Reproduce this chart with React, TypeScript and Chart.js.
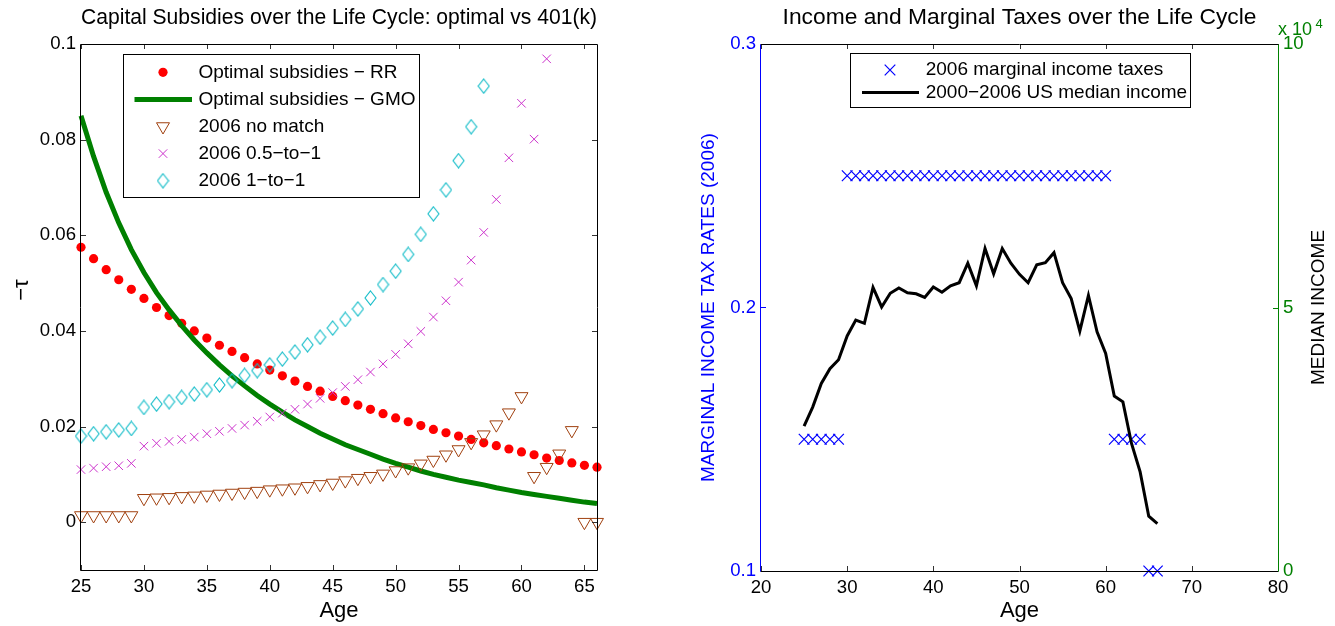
import React, { useEffect, useRef } from 'react';
import { Chart, registerables } from 'chart.js';
import { drawPoint } from 'chart.js/helpers';

Chart.register(...registerables);

const FONT = "'Liberation Sans', Arial, Helvetica, sans-serif";

// ---------- Left chart data ----------
const AGES = [25, 26, 27, 28, 29, 30, 31, 32, 33, 34, 35, 36, 37, 38, 39, 40, 41, 42, 43, 44, 45,
  46, 47, 48, 49, 50, 51, 52, 53, 54, 55, 56, 57, 58, 59, 60, 61, 62, 63, 64, 65, 66];

const RR = [0.0575, 0.0551, 0.0528, 0.0507, 0.0487, 0.0468, 0.0449, 0.0432, 0.0416, 0.0400, 0.0385,
  0.0370, 0.0357, 0.0344, 0.0331, 0.0318, 0.0306, 0.0295, 0.0284, 0.0274, 0.0263, 0.0254, 0.0245,
  0.0236, 0.0227, 0.0218, 0.0210, 0.0202, 0.0194, 0.0187, 0.0180, 0.0173, 0.0166, 0.0160, 0.0153,
  0.0147, 0.0141, 0.0134, 0.0129, 0.0124, 0.0119, 0.0115];

const GMO = [0.0850, 0.0765, 0.0690, 0.0626, 0.0570, 0.0522, 0.0480, 0.0444, 0.0411, 0.0381, 0.0354,
  0.0329, 0.0306, 0.0285, 0.0265, 0.0247, 0.0230, 0.0214, 0.0200, 0.0186, 0.0174, 0.0162, 0.0152,
  0.0142, 0.0132, 0.0123, 0.0115, 0.0107, 0.0100, 0.0094, 0.0088, 0.0083, 0.0078, 0.0072, 0.0067,
  0.0062, 0.0058, 0.0054, 0.0050, 0.0046, 0.0042, 0.0039];

const NO_MATCH = [0.0014, 0.0014, 0.0014, 0.0014, 0.0014, 0.0050, 0.0051, 0.0052, 0.0054, 0.0055,
  0.0057, 0.0059, 0.0061, 0.0063, 0.0065, 0.0068, 0.0070, 0.0072, 0.0075, 0.0079, 0.0082, 0.0087,
  0.0092, 0.0096, 0.0101, 0.0108, 0.0114, 0.0122, 0.0130, 0.0141, 0.0152, 0.0167, 0.0183, 0.0204,
  0.0229, 0.0263, 0.0096, 0.0115, 0.0143, 0.0192, 0.0000, 0.0000];

const HALF_MATCH = [0.0110, 0.0113, 0.0116, 0.0118, 0.0123, 0.0159, 0.0165, 0.0169, 0.0173, 0.0178,
  0.0185, 0.0190, 0.0196, 0.0203, 0.0211, 0.0220, 0.0228, 0.0236, 0.0247, 0.0259, 0.0271, 0.0284,
  0.0298, 0.0314, 0.0331, 0.0351, 0.0373, 0.0399, 0.0429, 0.0463, 0.0502, 0.0548, 0.0606, 0.0675,
  0.0762, 0.0876, 0.0801, 0.0969];

const FULL_MATCH = [0.0180, 0.0185, 0.0189, 0.0193, 0.0196, 0.0240, 0.0247, 0.0252, 0.0261, 0.0268,
  0.0277, 0.0287, 0.0296, 0.0307, 0.0317, 0.0329, 0.0341, 0.0356, 0.0371, 0.0387, 0.0406, 0.0424,
  0.0446, 0.0469, 0.0497, 0.0525, 0.0560, 0.0602, 0.0645, 0.0695, 0.0756, 0.0827, 0.0912];

const LEFT_X_TICKS = [25, 30, 35, 40, 45, 50, 55, 60, 65];
const LEFT_Y_TICKS = [0, 0.02, 0.04, 0.06, 0.08, 0.1];

const LEFT_TITLE = 'Capital Subsidies over the Life Cycle: optimal vs 401(k)';
const LEFT_YLABEL = '\u2212\u03C4';
const X_LABEL = 'Age';
const LEFT_LABELS = [
  'Optimal subsidies \u2212 RR',
  'Optimal subsidies \u2212 GMO',
  '2006 no match',
  '2006 0.5\u2212to\u22121',
  '2006 1\u2212to\u22121',
];

// ---------- Right chart data ----------
const TAX = [0.15, 0.15, 0.15, 0.15, 0.15, 0.25, 0.25, 0.25, 0.25, 0.25, 0.25, 0.25, 0.25, 0.25,
  0.25, 0.25, 0.25, 0.25, 0.25, 0.25, 0.25, 0.25, 0.25, 0.25, 0.25, 0.25, 0.25, 0.25, 0.25, 0.25,
  0.25, 0.25, 0.25, 0.25, 0.25, 0.25, 0.15, 0.15, 0.15, 0.15, 0.10, 0.10];

const INCOME = [27500, 31100, 35600, 38400, 40100, 44600, 47600, 47000, 53800, 50100, 52700, 53700,
  52800, 52600, 51900, 53900, 52900, 54100, 54700, 58400, 54100, 61200, 56400, 61200, 58400, 56300,
  54700, 58100, 58500, 60400, 54700, 51700, 45500, 52300, 45400, 41300, 33200, 32100, 24200, 18800,
  10400, 9000];

const RIGHT_X_TICKS = [20, 30, 40, 50, 60, 70, 80];
const TAX_TICKS = [0.1, 0.2, 0.3];
const INCOME_TICKS = [0, 50000, 100000];

const RIGHT_TITLE = 'Income and Marginal Taxes over the Life Cycle';
const RIGHT_YLABEL = 'MARGINAL INCOME TAX RATES (2006)';
const RIGHT_Y2LABEL = 'MEDIAN INCOME';
const EXP_BASE = 'x 10';
const EXP_POWER = '4';
const RIGHT_LABELS = ['2006 marginal income taxes', '2000\u22122006 US median income'];

// ---------- helpers ----------
const pts = (vals: number[]) => vals.map((y, i) => ({ x: AGES[i], y }));

function makeDiamond(color: string, w: number, h: number) {
  const c = document.createElement('canvas');
  c.width = w + 2;
  c.height = h + 2;
  const g = c.getContext('2d')!;
  g.strokeStyle = color;
  g.lineWidth = 1.1;
  const cx = c.width / 2, cy = c.height / 2;
  g.beginPath();
  g.moveTo(cx, cy - h / 2);
  g.lineTo(cx + w / 2, cy);
  g.lineTo(cx, cy + h / 2);
  g.lineTo(cx - w / 2, cy);
  g.closePath();
  g.stroke();
  return c;
}

type Side = { edge: 'bottom' | 'top' | 'left' | 'right'; scale: string; line: string; tick: string };
type LegendCfg = { box: [number, number, number, number]; rows: number[]; markerX: number; lineX: [number, number]; textX: number; size: number };
type TextCfg = { text: string; x: number; y: number; size: number; color: string; rotate?: boolean; align: CanvasTextAlign; baseline: CanvasTextBaseline };

function makeDecor(sides: Side[], legend: LegendCfg, texts: TextCfg[]) {
  return {
    id: 'decor',
    afterDraw(chart: any) {
      const { ctx, chartArea: a, scales } = chart;
      const L = 5;
      ctx.save();
      ctx.lineWidth = 1;
      for (const s of sides) {
        const sc = scales[s.scale];
        ctx.strokeStyle = s.tick;
        ctx.beginPath();
        for (const t of sc.ticks) {
          const p = Math.round(sc.getPixelForValue(t.value)) + 0.5;
          if (s.edge === 'bottom') { ctx.moveTo(p, a.bottom); ctx.lineTo(p, a.bottom - L); }
          else if (s.edge === 'top') { ctx.moveTo(p, a.top); ctx.lineTo(p, a.top + L); }
          else if (s.edge === 'left') { ctx.moveTo(a.left, p); ctx.lineTo(a.left + L, p); }
          else { ctx.moveTo(a.right, p); ctx.lineTo(a.right - L, p); }
        }
        ctx.stroke();
      }
      const l = Math.round(a.left) - 0.5, r = Math.round(a.right) + 0.5;
      const t = Math.round(a.top) + 0.5, b = Math.round(a.bottom) + 0.5;
      for (const s of sides) {
        ctx.strokeStyle = s.line;
        ctx.beginPath();
        if (s.edge === 'bottom') { ctx.moveTo(l, b); ctx.lineTo(r, b); }
        else if (s.edge === 'top') { ctx.moveTo(l, t); ctx.lineTo(r, t); }
        else if (s.edge === 'left') { ctx.moveTo(l, t); ctx.lineTo(l, b); }
        else { ctx.moveTo(r, t); ctx.lineTo(r, b); }
        ctx.stroke();
      }
      // legend box
      const [x1, y1, x2, y2] = legend.box;
      ctx.fillStyle = '#ffffff';
      ctx.fillRect(x1, y1, x2 - x1, y2 - y1);
      ctx.strokeStyle = '#000000';
      ctx.lineWidth = 1;
      ctx.strokeRect(Math.round(x1) + 0.5, Math.round(y1) + 0.5, Math.round(x2 - x1), Math.round(y2 - y1));
      // legend entries, styled from the library's resolved element options
      chart.data.datasets.forEach((ds: any, i: number) => {
        const y = legend.rows[i];
        const meta = chart.getDatasetMeta(i);
        ctx.save();
        if (ds.pointRadius === 0) {
          const lo = meta.dataset ? meta.dataset.options : ds;
          ctx.strokeStyle = lo.borderColor;
          ctx.lineWidth = lo.borderWidth;
          ctx.lineCap = 'butt';
          ctx.beginPath();
          ctx.moveTo(legend.lineX[0], y);
          ctx.lineTo(legend.lineX[1], y);
          ctx.stroke();
        } else {
          const po = meta.data[0].options;
          ctx.fillStyle = po.backgroundColor;
          ctx.strokeStyle = po.borderColor;
          ctx.lineWidth = po.borderWidth;
          drawPoint(ctx, {
            pointStyle: po.pointStyle,
            rotation: po.rotation,
            radius: po.radius,
            borderWidth: po.borderWidth,
          } as any, legend.markerX, y);
        }
        ctx.restore();
        ctx.fillStyle = '#000000';
        ctx.font = `${legend.size}px ${FONT}`;
        ctx.textAlign = 'left';
        ctx.textBaseline = 'middle';
        ctx.fillText(ds.label, legend.textX, y);
      });
      for (const tx of texts) {
        ctx.save();
        ctx.fillStyle = tx.color;
        ctx.font = `${tx.size}px ${FONT}`;
        ctx.textAlign = tx.align;
        ctx.textBaseline = tx.baseline;
        ctx.translate(tx.x, tx.y);
        if (tx.rotate) ctx.rotate(-Math.PI / 2);
        ctx.fillText(tx.text, 0, 0);
        ctx.restore();
      }
      ctx.restore();
    },
  };
}

const tickFont = { family: FONT, size: 18.6 };
const labelFont = { family: FONT, size: 19, weight: 'normal' as const };
const titleFont = { family: FONT, size: 22.8, weight: 'normal' as const };
const xLabelFont = { family: FONT, size: 22, weight: 'normal' as const };
const noGrid = { display: false, drawTicks: false };
const CYAN = '#10BCC8';
const MAGENTA = '#CC33CC';
const BROWN = '#A0400F';
const BLUE = '#0000FF';

function leftConfig(): any {
  const diamond = makeDiamond(CYAN, 11, 14);
  return {
    type: 'scatter',
    data: {
      datasets: [
        {
          label: LEFT_LABELS[0], data: pts(RR), showLine: false, clip: false, order: 5,
          pointStyle: 'circle', pointRadius: 4.6, pointBackgroundColor: '#FF0000',
          pointBorderColor: '#FF0000', borderColor: '#FF0000', backgroundColor: '#FF0000', pointBorderWidth: 0,
        },
        {
          type: 'line', label: LEFT_LABELS[1], data: pts(GMO), showLine: true, clip: false, order: 4,
          borderColor: '#008000', borderWidth: 5, pointRadius: 0, tension: 0, fill: false,
        },
        {
          label: LEFT_LABELS[2], data: pts(NO_MATCH), showLine: false, clip: false, order: 3,
          pointStyle: 'triangle', pointRotation: 180, pointRadius: 7.5,
          pointBackgroundColor: 'rgba(0,0,0,0)', backgroundColor: 'rgba(0,0,0,0)',
          pointBorderColor: BROWN, borderColor: BROWN, pointBorderWidth: 1,
        },
        {
          label: LEFT_LABELS[3], data: pts(HALF_MATCH), showLine: false, clip: false, order: 2,
          pointStyle: 'crossRot', pointRadius: 6, pointBackgroundColor: 'rgba(0,0,0,0)', backgroundColor: 'rgba(0,0,0,0)',
          pointBorderColor: MAGENTA, borderColor: MAGENTA, pointBorderWidth: 1,
        },
        {
          label: LEFT_LABELS[4], data: pts(FULL_MATCH), showLine: false, clip: false, order: 1,
          pointStyle: diamond, pointRadius: 6, pointBackgroundColor: 'rgba(0,0,0,0)', backgroundColor: 'rgba(0,0,0,0)',
          pointBorderColor: CYAN, borderColor: CYAN, pointBorderWidth: 1,
        },
      ],
    },
    options: {
      responsive: false,
      animation: false,
      events: [],
      layout: { padding: { left: 0, right: 83, top: 0, bottom: 0 } },
      plugins: {
        legend: { display: false },
        tooltip: { enabled: false },
        title: {
          display: true, text: LEFT_TITLE, fullSize: false, color: '#000',
          font: titleFont, padding: { top: 4.3, bottom: 12.34 },
        },
      },
      scales: {
        x: {
          type: 'linear', position: 'bottom', min: 25, max: 66,
          afterBuildTicks: (s: any) => { s.ticks = LEFT_X_TICKS.map((value) => ({ value })); },
          afterFit: (s: any) => { s.height = 56; },
          grid: noGrid, border: { display: false },
          ticks: { padding: 6, color: '#000', font: tickFont, maxRotation: 0, autoSkip: false, callback: (v: number) => String(v) },
          title: { display: true, text: X_LABEL, color: '#000', font: xLabelFont, padding: { top: 0, bottom: 1.8 } },
        },
        y: {
          type: 'linear', position: 'left', min: -0.01, max: 0.1,
          afterBuildTicks: (s: any) => { s.ticks = LEFT_Y_TICKS.map((value) => ({ value })); },
          afterFit: (s: any) => { s.width = 81; },
          grid: noGrid, border: { display: false },
          ticks: { padding: 5, color: '#000', font: tickFont, autoSkip: false, callback: (v: number) => String(v) },
        },
      },
    },
    plugins: [
      makeDecor(
        [
          { edge: 'bottom', scale: 'x', line: '#000', tick: '#333' },
          { edge: 'top', scale: 'x', line: '#000', tick: '#333' },
          { edge: 'left', scale: 'y', line: '#000', tick: '#333' },
          { edge: 'right', scale: 'y', line: '#000', tick: '#333' },
        ],
        { box: [123, 54, 419, 197], rows: [72.3, 99.4, 126.5, 153.6, 180.7], markerX: 163, lineX: [134.5, 192], textX: 198.5, size: 19 },
        [
          { text: LEFT_YLABEL, x: 22, y: 290, size: 22, color: '#000', rotate: true, align: 'center', baseline: 'middle' },
        ],
      ),
    ],
  };
}

function rightConfig(): any {
  return {
    type: 'scatter',
    data: {
      datasets: [
        {
          label: RIGHT_LABELS[0], data: pts(TAX), yAxisID: 'y', showLine: false, clip: false, order: 2,
          pointStyle: 'crossRot', pointRadius: 7.5, pointBackgroundColor: 'rgba(0,0,0,0)', backgroundColor: 'rgba(0,0,0,0)',
          pointBorderColor: BLUE, borderColor: BLUE, pointBorderWidth: 1.2,
        },
        {
          type: 'line', label: RIGHT_LABELS[1], data: pts(INCOME), yAxisID: 'y2', showLine: true,
          clip: false, order: 1, borderColor: '#000000', borderWidth: 3, pointRadius: 0, tension: 0, fill: false,
        },
      ],
    },
    options: {
      responsive: false,
      animation: false,
      events: [],
      layout: { padding: 0 },
      plugins: {
        legend: { display: false },
        tooltip: { enabled: false },
        title: {
          display: true, text: RIGHT_TITLE, fullSize: false, color: '#000',
          font: titleFont, padding: { top: 4.3, bottom: 12.34 },
        },
      },
      scales: {
        x: {
          type: 'linear', position: 'bottom', min: 20, max: 80,
          afterBuildTicks: (s: any) => { s.ticks = RIGHT_X_TICKS.map((value) => ({ value })); },
          afterFit: (s: any) => { s.height = 55; },
          grid: noGrid, border: { display: false },
          ticks: { padding: 6, color: '#000', font: tickFont, maxRotation: 0, autoSkip: false, callback: (v: number) => String(v) },
          title: { display: true, text: X_LABEL, color: '#000', font: xLabelFont, padding: { top: 0, bottom: 1.8 } },
        },
        y: {
          type: 'linear', position: 'left', min: 0.1, max: 0.3,
          afterBuildTicks: (s: any) => { s.ticks = TAX_TICKS.map((value) => ({ value })); },
          afterFit: (s: any) => { s.width = 81; },
          grid: noGrid, border: { display: false },
          ticks: { padding: 5, color: BLUE, font: tickFont, autoSkip: false, callback: (v: number) => String(v) },
          title: { display: true, text: RIGHT_YLABEL, color: BLUE, font: labelFont, padding: { top: 17, bottom: 0 } },
        },
        y2: {
          type: 'linear', position: 'right', min: 0, max: 100000,
          afterBuildTicks: (s: any) => { s.ticks = INCOME_TICKS.map((value) => ({ value })); },
          afterFit: (s: any) => { s.width = 57; },
          grid: noGrid, border: { display: false },
          ticks: { padding: 5, color: '#008000', font: tickFont, autoSkip: false, callback: (v: number) => String(v / 10000) },
        },
      },
    },
    plugins: [
      makeDecor(
        [
          { edge: 'bottom', scale: 'x', line: '#000', tick: '#333' },
          { edge: 'top', scale: 'x', line: '#000', tick: '#333' },
          { edge: 'left', scale: 'y', line: BLUE, tick: BLUE },
          { edge: 'right', scale: 'y2', line: '#008000', tick: '#008000' },
        ],
        { box: [170, 53, 510, 107], rows: [70, 92.5], markerX: 210, lineX: [182, 239], textX: 245.7, size: 19 },
        [
          { text: RIGHT_Y2LABEL, x: 639, y: 307.5, size: 19, color: '#000', rotate: true, align: 'center', baseline: 'middle' },
          { text: EXP_BASE, x: 598, y: 35, size: 18, color: '#008000', align: 'left', baseline: 'alphabetic' },
          { text: EXP_POWER, x: 635.5, y: 28, size: 13, color: '#008000', align: 'left', baseline: 'alphabetic' },
        ],
      ),
    ],
  };
}

function ChartCanvas({ make, left, width }: { make: () => any; left: number; width: number }) {
  const ref = useRef<HTMLCanvasElement>(null);
  useEffect(() => {
    const chart = new Chart(ref.current as HTMLCanvasElement, make());
    return () => chart.destroy();
  }, [make]);
  return (
    <canvas
      ref={ref}
      width={width}
      height={626}
      style={{ position: 'absolute', left, top: 0, width, height: 626 }}
    />
  );
}

export default function App() {
  return (
    <div style={{ position: 'absolute', left: 0, top: 0, width: 1335, height: 626, background: '#fff', overflow: 'hidden' }}>
      <ChartCanvas make={leftConfig} left={0} width={680} />
      <ChartCanvas make={rightConfig} left={680} width={655} />
    </div>
  );
}
